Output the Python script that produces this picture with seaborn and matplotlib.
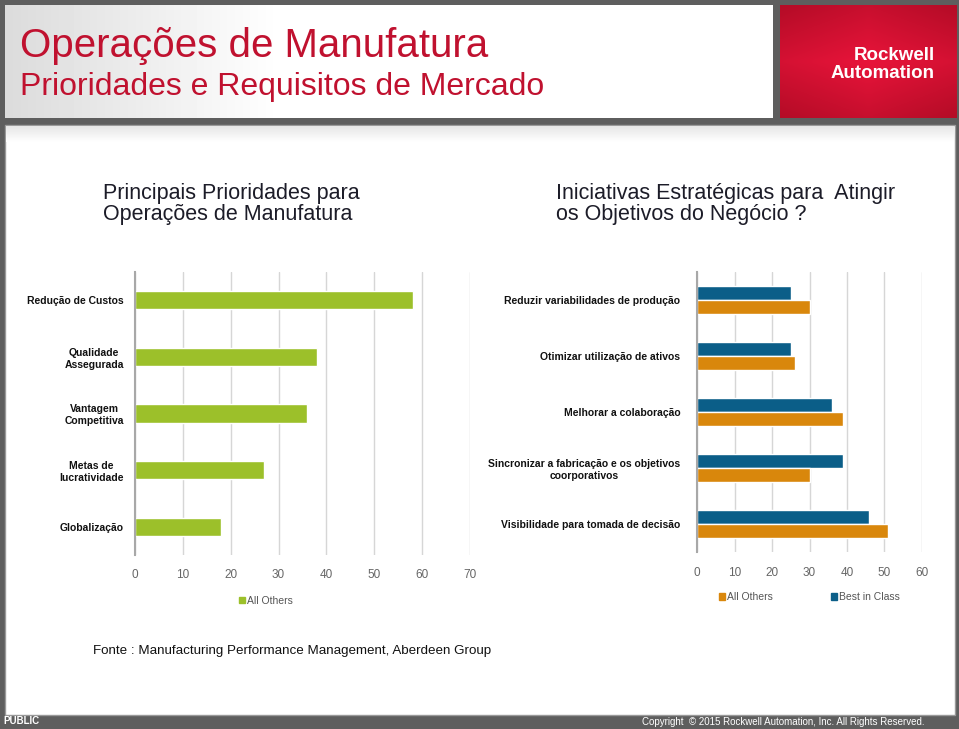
import matplotlib
matplotlib.use('Agg')
import matplotlib.pyplot as plt
from matplotlib.patches import Rectangle, Patch
import seaborn as sns
import numpy as np
import pandas as pd

# data
prioridades = ["Redução de Custos", "Qualidade\nAssegurada", "Vantagem\nCompetitiva",
               "Metas de\nlucratividade", "Globalização"]
prioridades_all_others = [58, 38, 36, 27, 18]

iniciativas = ["Reduzir variabilidades de produção", "Otimizar utilização de ativos",
               "Melhorar a colaboração", "Sincronizar a fabricação e os objetivos\ncoorporativos",
               "Visibilidade para tomada de decisão"]
iniciativas_best = [25, 25, 36, 39, 46]
iniciativas_others = [30, 26, 39, 30, 51]

GREEN = "#9cc02a"
BLUE = "#0b5e88"
ORANGE = "#d9870c"
RED = "#c0112f"

sns.set_style("white")
plt.rcParams['font.family'] = ['Liberation Sans', 'DejaVu Sans']

W, H = 959, 729
fig = plt.figure(figsize=(W / 100, H / 100), dpi=100)
fig.patch.set_facecolor("#5e5e5e")


def frac(x, y, w, h):
    return [x / W, 1 - (y + h) / H, w / W, h / H]


def box(x, y, w, h, **kw):
    # pixel coords from top-left -> figure fraction, kept behind the axes
    fig.patches.append(Rectangle(frac(x, y, w, h)[:2], w / W, h / H,
                                 transform=fig.transFigure, zorder=-5, **kw))


def put(x, y, s, **kw):
    fig.text(x / W, 1 - y / H, s, **kw)


def gradient(rect, img, cmap):
    g = fig.add_axes(rect, zorder=-2)
    g.imshow(img, aspect="auto", cmap=cmap, vmin=0, vmax=1, interpolation="bilinear")
    g.set_axis_off()


# header: light grey fading to white, red logo block
gradient(frac(5, 5, 768, 113), np.clip(np.linspace(0.86, 1.25, 256), 0, 1)[None, :], "gray")
gradient(frac(780, 5, 177, 113),
         np.clip(1 - np.abs(np.linspace(-1, 1, 64))[:, None] * 0.5 - np.abs(np.linspace(-1, 1, 64))[None, :] * 0.3, 0, 1),
         matplotlib.colors.LinearSegmentedColormap.from_list("r", ["#a80a22", "#e8143a"]))
box(5, 125, 950, 590, facecolor="white", edgecolor="#9a9a9a", linewidth=1)
gradient(frac(6, 126, 948, 16), np.linspace(0.9, 1, 32)[:, None], "gray")

put(20, 46, "Operações de Manufatura", fontsize=29, color=RED, va="center")
put(20, 87, "Prioridades e Requisitos de Mercado", fontsize=23, color=RED, va="center")
put(935, 56, "Rockwell", fontsize=13.5, color="white", fontweight="bold", ha="right", va="center")
put(935, 74, "Automation", fontsize=13.5, color="white", fontweight="bold", ha="right", va="center")

put(103, 204, "Principais Prioridades para\nOperações de Manufatura", fontsize=15.5,
    color="#1c1c28", va="center", linespacing=1.05)
put(556, 204, "Iniciativas Estratégicas para  Atingir\nos Objetivos do Negócio ?", fontsize=15.5,
    color="#1c1c28", va="center", linespacing=1.05)

put(93, 651, "Fonte : Manufacturing Performance Management, Aberdeen Group", fontsize=9.6,
    color="#111111", va="center")
put(3, 721, "PUBLIC", fontsize=7, color="white", fontweight="bold", va="center")
put(925, 722, "Copyright  © 2015 Rockwell Automation, Inc. All Rights Reserved.", fontsize=7,
    color="white", ha="right", va="center")


def style_axis(ax, xmax, pad):
    ax.set_xlim(0, xmax)
    ax.set_xticks(range(0, xmax + 1, 10))
    ax.grid(axis="x", color="#d6d6d6", linewidth=1)
    ax.set_axisbelow(True)
    for s in ["top", "right", "bottom"]:
        ax.spines[s].set_visible(False)
    ax.spines["left"].set_color("#a8a8a8")
    ax.spines["left"].set_linewidth(1.5)
    ax.tick_params(axis="x", colors="#666666", labelsize=8.5, length=0, pad=pad)
    ax.tick_params(axis="y", length=0)
    for t in ax.get_yticklabels():
        t.set_fontsize(7.5)
        t.set_fontweight("bold")
        t.set_color("#111111")
        t.set_multialignment("center")
    ax.set_xlabel("")
    ax.set_ylabel("")


# left chart
ax1 = fig.add_axes(frac(135, 272, 335, 283))
df1 = pd.DataFrame({"prioridade": prioridades, "valor": prioridades_all_others})
sns.barplot(data=df1, x="valor", y="prioridade", color=GREEN, width=0.32,
            saturation=1, ax=ax1)
style_axis(ax1, 70, 10)
ax1.tick_params(axis="y", pad=8)
ax1.legend(handles=[Patch(color=GREEN, label="All Others")], loc="upper center",
           bbox_to_anchor=(0.39, -0.11), frameon=False, fontsize=7.5, handlelength=0.6,
           handleheight=0.6, handletextpad=0.2, labelcolor="#555555")

# right chart
ax2 = fig.add_axes(frac(697, 272, 225, 280))
df2 = pd.DataFrame({
    "iniciativa": iniciativas * 2,
    "valor": iniciativas_best + iniciativas_others,
    "grupo": ["Best in Class"] * 5 + ["All Others"] * 5,
})
sns.barplot(data=df2, x="valor", y="iniciativa", hue="grupo",
            hue_order=["Best in Class", "All Others"],
            palette={"Best in Class": BLUE, "All Others": ORANGE},
            width=0.5, saturation=1, ax=ax2)
style_axis(ax2, 60, 11)
ax2.tick_params(axis="y", pad=12)
ax2.legend(handles=[Patch(color=ORANGE, label="All Others"),
                    Patch(color=BLUE, label="Best in Class")],
           loc="upper center", bbox_to_anchor=(0.5, -0.11), frameon=False, ncol=2,
           fontsize=7.5, handlelength=0.6, handleheight=0.6, handletextpad=0.2,
           columnspacing=5.5, labelcolor="#555555")

fig.savefig("out.png", dpi=100, facecolor=fig.get_facecolor())
